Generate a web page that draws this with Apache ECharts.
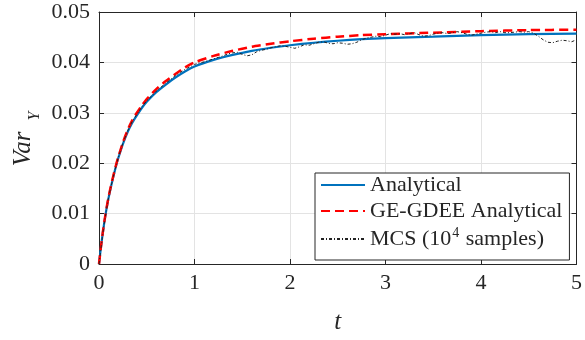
<!DOCTYPE html>
<html>
<head>
<meta charset="utf-8">
<script src="https://cdn.jsdelivr.net/npm/echarts@6/dist/echarts.min.js"></script>
<style>html,body{margin:0;padding:0;background:#fff;}#c{width:585px;height:340px;}</style>
</head>
<body>
<div id="c"></div>
<script>
// ---- data ----
var tSmooth = [0,0.02,0.04,0.06,0.08,0.1,0.125,0.15,0.175,0.2,0.25,0.3,0.35,0.4,0.45,0.5,0.6,0.7,0.8,0.9,1.0,1.2,1.4,1.6,1.8,2.0,2.25,2.5,2.75,3.0,3.5,4.0,4.5,5.0];
var analytical = [0,0.0033,0.0062,0.0088,0.0111,0.0131,0.0153,0.0173,0.0192,0.0209,0.0238,0.0262,0.0281,0.0296,0.0310,0.0322,0.0341,0.0356,0.0370,0.0382,0.0392,0.0405,0.0415,0.0423,0.0429,0.0434,0.0439,0.0443,0.0446,0.0448,0.0451,0.0454,0.0456,0.0457];
var geGdee = [0,0.0033,0.0063,0.0089,0.0112,0.0133,0.0155,0.0175,0.0194,0.0211,0.0241,0.0266,0.0286,0.0301,0.0315,0.0327,0.0347,0.0363,0.0377,0.0390,0.0400,0.0413,0.0423,0.0431,0.0437,0.0442,0.0447,0.0451,0.0454,0.0456,0.0459,0.0462,0.0464,0.0465];
var tMcs = [0,0.05,0.1,0.15,0.2,0.25,0.3,0.35,0.4,0.45,0.5,0.55,0.6,0.65,0.7,0.75,0.8,0.85,0.9,0.95,1.0,1.05,1.1,1.15,1.2,1.25,1.3,1.35,1.4,1.45,1.5,1.55,1.6,1.65,1.7,1.75,1.8,1.85,1.9,1.95,2.0,2.05,2.1,2.15,2.2,2.25,2.3,2.35,2.4,2.45,2.5,2.55,2.6,2.65,2.7,2.75,2.8,2.85,2.9,2.95,3.0,3.05,3.1,3.15,3.2,3.25,3.3,3.35,3.4,3.45,3.5,3.55,3.6,3.65,3.7,3.75,3.8,3.85,3.9,3.95,4.0,4.05,4.1,4.15,4.2,4.25,4.3,4.35,4.4,4.45,4.5,4.55,4.6,4.65,4.7,4.75,4.8,4.85,4.9,4.95,5.0];
var mcs = [0,0.0075,0.0132,0.0174,0.0210,0.0240,0.0264,0.0284,0.0298,0.0312,0.0324,0.0333,0.0343,0.0351,0.0359,0.0366,0.0374,0.0380,0.0386,0.0391,0.0396,0.0399,0.0401,0.0404,0.0407,0.0410,0.0413,0.0417,0.0419,0.0420,0.0416,0.0413,0.0415,0.0421,0.0424,0.0426,0.0429,0.0431,0.0433,0.0432,0.0430,0.0428,0.0431,0.0435,0.0434,0.0437,0.0440,0.0441,0.0438,0.0437,0.0439,0.0438,0.0436,0.0437,0.0440,0.0445,0.0448,0.0450,0.0452,0.0451,0.0454,0.0457,0.0456,0.0457,0.0455,0.0457,0.0459,0.0455,0.0452,0.0453,0.0456,0.0458,0.0459,0.0457,0.0459,0.0461,0.0459,0.0456,0.0454,0.0456,0.0458,0.0460,0.0461,0.0459,0.0461,0.0459,0.0459,0.0460,0.0461,0.0460,0.0461,0.0458,0.0452,0.0445,0.0440,0.0439,0.0442,0.0444,0.0443,0.0441,0.0445];
var xTicks = [0,1,2,3,4,5];
var yTicks = [0,0.01,0.02,0.03,0.04,0.05];
var seriesNames = ['Analytical','GE-GDEE Analytical','MCS (10^4 samples)'];

function pairs(xs, ys){ return xs.map(function(x,i){ return [x, ys[i]]; }); }

var FONT = '"Liberation Serif", "Times New Roman", serif';
var AX = '#262626';
var chart = echarts.init(document.getElementById('c'), null, {renderer:'canvas'});
var baseX = {
  type:'value', min:xTicks[0], max:xTicks[xTicks.length-1], interval:1,
  axisLine:{show:true, onZero:false, lineStyle:{color:AX, width:1}},
  axisTick:{show:true, inside:true, length:5, lineStyle:{color:AX}},
  splitLine:{show:false}
};
var baseY = {
  type:'value', min:yTicks[0], max:yTicks[yTicks.length-1], interval:0.01,
  axisLine:{show:true, onZero:false, lineStyle:{color:AX, width:1}},
  axisTick:{show:true, inside:true, length:5, lineStyle:{color:AX}},
  splitLine:{show:false}
};
chart.setOption({
  animation:false,
  backgroundColor:'#fff',
  grid:{left:99, right:5, top:12, bottom:72, containLabel:false},
  xAxis:[
    Object.assign({}, baseX, {position:'bottom',
      axisLabel:{color:AX, fontFamily:FONT, fontSize:22, margin:8, formatter:function(v){return String(v);}},
      splitLine:{show:true, lineStyle:{color:'#e3e3e3', width:1}},
      name:'t', nameLocation:'middle', nameGap:46,
      nameTextStyle:{color:AX, fontFamily:FONT, fontSize:25, fontStyle:'italic'}}),
    Object.assign({}, baseX, {position:'top', axisLabel:{show:false}})
  ],
  yAxis:[
    Object.assign({}, baseY, {position:'left',
      axisLabel:{color:AX, fontFamily:FONT, fontSize:22, margin:9, formatter:function(v){return v===0?'0':v.toFixed(2);}},
      splitLine:{show:true, lineStyle:{color:'#e3e3e3', width:1}}}),
    Object.assign({}, baseY, {position:'right', axisLabel:{show:false}})
  ],
  legend:{
    left:315, top:173, orient:'vertical',
    data:seriesNames,
    itemWidth:44, itemHeight:12, itemGap:4,
    padding:[1,7,10,5],
    itemStyle:{opacity:0},
    borderColor:AX, borderWidth:1, backgroundColor:'#fff',
    textStyle:{color:AX, fontFamily:FONT, fontSize:22,
      rich:{sup:{fontFamily:FONT, fontSize:14, color:AX, padding:[0,1,12,1]}}},
    formatter:function(n){ return n.indexOf('^')>=0 ? 'MCS (10{sup|4} samples)' : n; }
  },
  graphic:[
    {type:'text', x:23, y:149, rotation:Math.PI/2,
      style:{text:'Var', font:'italic 25px ' + FONT, fill:AX, textAlign:'center', textVerticalAlign:'middle'}},
    {type:'text', x:35, y:116, rotation:Math.PI/2,
      style:{text:'Y', font:'italic 16px ' + FONT, fill:AX, textAlign:'center', textVerticalAlign:'middle'}}
  ],
  series:[
    {name:seriesNames[0], type:'line', data:pairs(tSmooth, analytical), showSymbol:false, symbol:'none', smooth:0.2,
      lineStyle:{color:'#0072BD', width:2.2}, itemStyle:{color:'#0072BD'}, z:2},
    {name:seriesNames[1], type:'line', data:pairs(tSmooth, geGdee), showSymbol:false, symbol:'none', smooth:0.2,
      lineStyle:{color:'#FF0000', width:2.5, type:[9,5]}, itemStyle:{color:'#FF0000'}, z:3},
    {name:seriesNames[2], type:'line', data:pairs(tMcs, mcs), showSymbol:false, symbol:'none',
      lineStyle:{color:'#222222', width:1, type:[3,2,1,2]}, itemStyle:{color:'#222222'}, z:4}
  ]
});
</script>
</body>
</html>
